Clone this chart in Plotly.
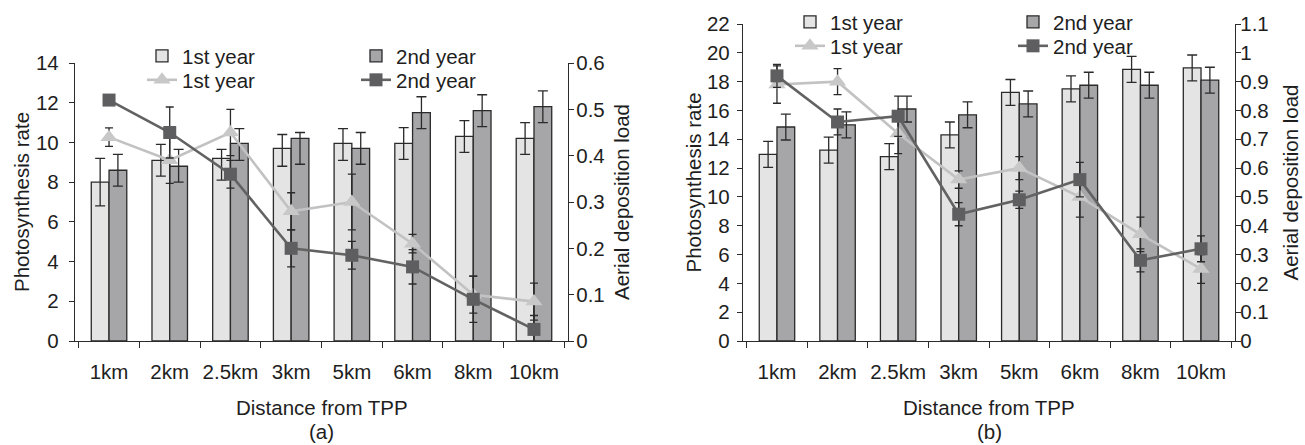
import plotly.graph_objects as go

categories = ["1km", "2km", "2.5km", "3km", "5km", "6km", "8km", "10km"]

# ---- panel (a) ----
a_bar_1st = [8.0, 9.1, 9.2, 9.7, 9.95, 9.95, 10.3, 10.2]
a_bar_1st_plus = [1.2, 0.8, 0.45, 0.7, 0.75, 0.8, 0.8, 0.8]
a_bar_1st_minus = [1.2, 0.8, 1.1, 0.9, 0.85, 0.8, 0.8, 0.8]
a_bar_2nd = [8.6, 8.8, 9.95, 10.2, 9.7, 11.5, 11.6, 11.8]
a_bar_2nd_plus = [0.8, 0.85, 0.75, 0.3, 0.8, 0.8, 0.8, 0.8]
a_bar_2nd_minus = [0.8, 0.8, 0.85, 1.3, 0.8, 0.8, 0.8, 0.8]
a_dep_1st = [0.44, 0.39, 0.45, 0.28, 0.30, 0.21, 0.10, 0.085]
a_dep_1st_err = [0.02, 0.05, 0.05, 0.04, 0.06, 0.02, 0.04, 0.04]
a_dep_2nd = [0.52, 0.45, 0.36, 0.20, 0.185, 0.16, 0.09, 0.025]
a_dep_2nd_err = [0.01, 0.055, 0.03, 0.04, 0.03, 0.037, 0.05, 0.03]

# ---- panel (b) ----
b_bar_1st = [12.95, 13.25, 12.8, 14.3, 17.25, 17.5, 18.85, 18.95]
b_bar_1st_err = [0.9, 0.9, 0.9, 0.9, 0.9, 0.9, 0.9, 0.9]
b_bar_2nd = [14.85, 15.0, 16.1, 15.7, 16.45, 17.75, 17.75, 18.1]
b_bar_2nd_err = [0.9, 0.9, 0.9, 0.9, 0.9, 0.9, 0.9, 0.9]
b_dep_1st = [0.89, 0.90, 0.72, 0.56, 0.60, 0.50, 0.37, 0.25]
b_dep_1st_err = [0.065, 0.045, 0.07, 0.03, 0.04, 0.07, 0.06, 0.05]
b_dep_2nd = [0.92, 0.76, 0.78, 0.44, 0.49, 0.56, 0.28, 0.32]
b_dep_2nd_err = [0.04, 0.045, 0.07, 0.04, 0.03, 0.06, 0.04, 0.045]

series_names = ["1st year", "2nd year"]
panel_labels = ["(a)", "(b)"]
x_title = "Distance from TPP"
y_title = "Photosynthesis rate"
y2_title = "Aerial deposition load"

FONT = "Liberation Sans, Arial, Helvetica, sans-serif"
TXT = "#1e1e1e"
AX = "#2b2b2b"
FS = 20.5

W, H = 1305, 445
fig = go.Figure()


def add_panel(xa, ya, ya2, bar1, b1p, b1m, bar2, b2p, b2m, dep1, d1e, dep2, d2e, legs):
    fig.add_trace(go.Bar(
        x=categories, y=bar1, name=series_names[0], xaxis=xa, yaxis=ya, legend=legs[0],
        marker=dict(color="#e4e4e5", line=dict(color="#2a2a2a", width=1.3)),
        error_y=dict(type="data", array=b1p, arrayminus=b1m, color="#2a2a2a", thickness=1.3, width=5),
    ))
    fig.add_trace(go.Bar(
        x=categories, y=bar2, name=series_names[1], xaxis=xa, yaxis=ya, legend=legs[1],
        marker=dict(color="#a6a6a8", line=dict(color="#2a2a2a", width=1.3)),
        error_y=dict(type="data", array=b2p, arrayminus=b2m, color="#2a2a2a", thickness=1.3, width=5),
    ))
    fig.add_trace(go.Scatter(
        x=categories, y=dep1, name=series_names[0], xaxis=xa, yaxis=ya2, legend=legs[2],
        mode="lines+markers",
        line=dict(color="#c2c2c2", width=2.6),
        marker=dict(symbol="triangle-up", size=15, color="#c8c8c8"),
        error_y=dict(type="data", array=d1e, color="#2a2a2a", thickness=1.3, width=4),
    ))
    fig.add_trace(go.Scatter(
        x=categories, y=dep2, name=series_names[1], xaxis=xa, yaxis=ya2, legend=legs[3],
        mode="lines+markers",
        line=dict(color="#626262", width=2.6),
        marker=dict(symbol="square", size=13, color="#5e5e60"),
        error_y=dict(type="data", array=d2e, color="#2a2a2a", thickness=1.3, width=4),
    ))


add_panel("x", "y", "y2", a_bar_1st, a_bar_1st_plus, a_bar_1st_minus,
          a_bar_2nd, a_bar_2nd_plus, a_bar_2nd_minus,
          a_dep_1st, a_dep_1st_err, a_dep_2nd, a_dep_2nd_err,
          ["legend", "legend2", "legend3", "legend4"])
add_panel("x2", "y3", "y4", b_bar_1st, b_bar_1st_err, b_bar_1st_err,
          b_bar_2nd, b_bar_2nd_err, b_bar_2nd_err,
          b_dep_1st, b_dep_1st_err, b_dep_2nd, b_dep_2nd_err,
          ["legend5", "legend6", "legend7", "legend8"])

# pixel geometry -> paper fractions
a_x0, a_x1 = 75, 568
b_x0, b_x1 = 743, 1235
y_bottom = 341
a_top, b_top = 63, 24


def px(v):
    return v / W


def py(v):
    return 1 - v / H


common_axis = dict(
    showline=True, linecolor=AX, linewidth=1.3, showgrid=False, zeroline=False,
    ticks="outside", tickcolor=AX, tickwidth=1.3, ticklen=5,
    tickfont=dict(family=FONT, size=FS, color=TXT), automargin=False,
)
xcommon = dict(common_axis, type="category", tickson="boundaries", ticklen=6,
               tickangle=0, ticklabelstandoff=12)

fig.update_layout(
    width=W, height=H, margin=dict(l=0, r=0, t=0, b=0),
    paper_bgcolor="white", plot_bgcolor="rgba(0,0,0,0)",
    barmode="group", bargap=0.415, bargroupgap=0,
    font=dict(family=FONT, size=FS, color=TXT),
    xaxis=dict(xcommon, domain=[px(a_x0), px(a_x1)], anchor="y"),
    yaxis=dict(common_axis, domain=[py(y_bottom), py(a_top)], anchor="x",
               range=[0, 14], dtick=2, ticklabelstandoff=6),
    yaxis2=dict(common_axis, overlaying="y", side="right", anchor="x",
                range=[0, 0.6], dtick=0.1, ticklabelstandoff=-2),
    xaxis2=dict(xcommon, domain=[px(b_x0), px(b_x1)], anchor="y3"),
    yaxis3=dict(common_axis, domain=[py(y_bottom), py(b_top)], anchor="x2",
                range=[0, 22], dtick=2, ticklabelstandoff=3),
    yaxis4=dict(common_axis, overlaying="y3", side="right", anchor="x2",
                range=[0, 1.1], dtick=0.1, ticklabelstandoff=-5),
    showlegend=True,
)

leg_common = dict(xanchor="left", yanchor="top", bgcolor="rgba(0,0,0,0)",
                  font=dict(family=FONT, size=FS, color=TXT), itemwidth=30,
                  tracegroupgap=0, orientation="v")
# legend text starts ~40px right of legend x; rows centered ~21px below legend top
leg_pos = {
    "legend": (142, 36), "legend2": (356, 36), "legend3": (142, 60), "legend4": (356, 60),
    "legend5": (790, 2), "legend6": (1013, 2), "legend7": (790, 26), "legend8": (1013, 26),
}
fig.update_layout(**{k: dict(leg_common, x=px(v[0]), y=py(v[1])) for k, v in leg_pos.items()})

annos = []
for (x0, x1, top, lab, ytx, y2tx) in [
    (a_x0, a_x1, a_top, panel_labels[0], 22, 622),
    (b_x0, b_x1, b_top, panel_labels[1], 693, 1290),
]:
    cx = (x0 + x1) / 2
    cy = (top + y_bottom) / 2
    annos.append(dict(text=y_title, x=px(ytx), y=py(cy), textangle=-90))
    annos.append(dict(text=y2_title, x=px(y2tx), y=py(cy), textangle=-90))
    annos.append(dict(text=x_title, x=px(cx), y=py(407)))
    annos.append(dict(text=lab, x=px(cx), y=py(431)))

fig.update_layout(annotations=[
    dict(a, xref="paper", yref="paper", showarrow=False, xanchor="center", yanchor="middle",
         font=dict(family=FONT, size=FS, color=TXT))
    for a in annos
])

fig.write_html("out.html", config={"displayModeBar": False},
               post_script="document.body.style.margin='0px';")
